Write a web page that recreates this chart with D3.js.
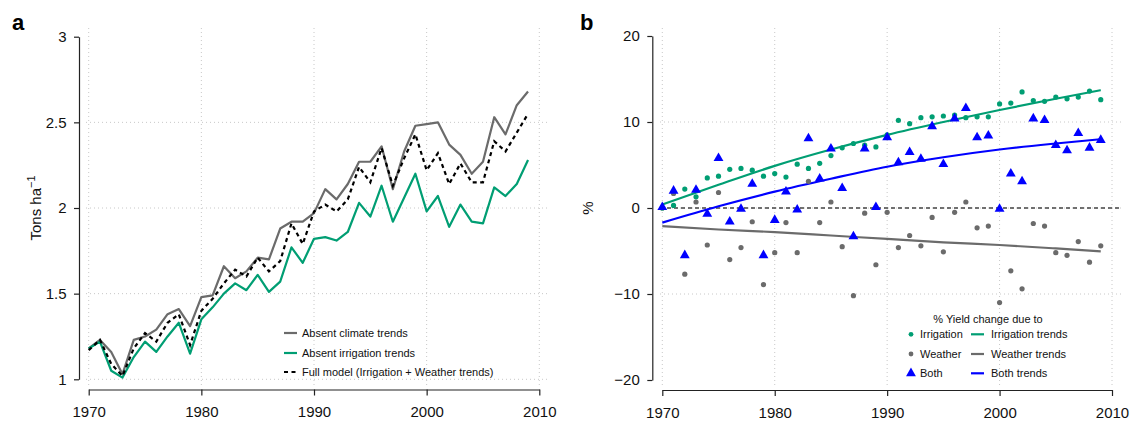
<!DOCTYPE html>
<html><head><meta charset="utf-8">
<script src="https://cdn.jsdelivr.net/npm/d3@7"></script>
<style>
body{margin:0;background:#fff;}
svg{display:block;font-family:"Liberation Sans",Arial,Helvetica,sans-serif;}
</style></head>
<body>
<svg id="chart" width="1130" height="421"></svg>
<script>
// ---------- DATA ----------
const years = d3.range(1970, 2010);
// Panel a (Tons ha^-1)
const absentClimate = [1.18,1.23,1.16,1.03,1.23,1.25,1.29,1.38,1.41,1.31,1.48,1.49,1.66,1.59,1.63,1.71,1.70,1.88,1.92,1.92,1.97,2.11,2.05,2.14,2.27,2.27,2.36,2.11,2.33,2.48,2.49,2.50,2.37,2.31,2.20,2.27,2.53,2.43,2.60,2.68];
const absentIrrigation = [1.18,1.22,1.05,1.01,1.13,1.22,1.16,1.25,1.33,1.15,1.35,1.42,1.50,1.56,1.52,1.61,1.51,1.57,1.77,1.68,1.82,1.83,1.81,1.86,2.03,1.95,2.13,1.92,2.06,2.20,1.98,2.07,1.89,2.02,1.92,1.91,2.12,2.07,2.14,2.28];
const fullModel = [1.17,1.23,1.09,1.02,1.18,1.27,1.22,1.33,1.38,1.20,1.40,1.47,1.56,1.64,1.60,1.71,1.63,1.69,1.91,1.79,1.98,2.02,1.98,2.05,2.24,2.15,2.35,2.13,2.29,2.43,2.22,2.32,2.14,2.26,2.15,2.15,2.39,2.33,2.44,2.55];
// Panel b (% yield change)
const irrigationPts = [0.0,0.3,2.2,1.3,3.5,3.7,4.5,4.6,4.4,3.7,4.0,3.6,5.1,4.6,5.2,6.1,7.0,7.5,7.3,7.1,8.5,10.2,9.8,10.5,10.6,10.7,10.8,10.5,10.6,10.6,12.1,12.2,13.5,12.5,12.4,12.9,12.7,12.9,13.6,12.6];
const weatherPts = [0.0,1.7,-7.7,0.7,-4.3,1.8,-6.0,-4.6,-1.6,-8.9,-5.2,-1.7,-5.2,3.1,-1.7,0.7,-4.5,-10.2,-0.6,-6.6,-0.5,-4.6,-3.2,-4.4,-1.1,-5.1,-0.5,0.7,-2.3,-2.1,-11.0,-7.3,-9.4,-1.8,-2.1,-5.2,-5.5,-3.9,-6.3,-4.4];
const bothPts = [0.1,2.0,-5.5,2.1,-0.7,5.8,-1.6,-0.1,2.8,-5.5,-1.4,1.9,-0.2,8.1,3.4,6.9,2.3,-3.3,6.9,0.1,8.2,5.3,6.5,5.7,9.5,5.1,10.4,11.6,8.2,8.4,-0.1,4.0,3.1,10.4,10.2,7.3,6.7,8.7,7.0,7.9];
const trendYears = [1970,1975,1980,1985,1990,1995,2000,2005,2009];
const irrigationTrend = [0.4,2.7,4.9,6.8,8.5,10.0,11.4,12.7,13.7];
const weatherTrend = [-2.1,-2.5,-2.8,-3.2,-3.6,-4.0,-4.3,-4.7,-5.05];
const bothTrend = [-1.7,0.2,1.9,3.4,4.8,5.9,6.8,7.5,8.0];
const xTicks = [1970,1980,1990,2000,2010];
const yTicksA = [1,1.5,2,2.5,3];
const yTicksB = [-20,-10,0,10,20];

const GREEN = "#009E73", GREY = "#6b6b6b", BLUE = "#0000FF";

const svg = d3.select("#chart");

function grid(g, x, y, xt, yt, x0, x1, y0, y1){
  xt.forEach(t => g.append("line").attr("x1", x(t)).attr("x2", x(t)).attr("y1", y0).attr("y2", y1)
     .attr("stroke", "#c8c8c8").attr("stroke-width", 1).attr("stroke-dasharray", "1,3"));
  yt.forEach(t => g.append("line").attr("x1", x0).attr("x2", x1).attr("y1", y(t)).attr("y2", y(t))
     .attr("stroke", "#c8c8c8").attr("stroke-width", 1).attr("stroke-dasharray", "1,3"));
}
function axes(x, y, xt, yt, xAxisY, yAxisX, fmt){
  const ax = svg.append("g").attr("transform", `translate(0,${xAxisY})`)
    .call(d3.axisBottom(x).tickValues(xt).tickSize(6).tickSizeOuter(0).tickFormat(d3.format("d")));
  const ay = svg.append("g").attr("transform", `translate(${yAxisX},0)`)
    .call(d3.axisLeft(y).tickValues(yt).tickSize(5).tickSizeOuter(0).tickFormat(fmt));
  [ax, ay].forEach(a => {
    a.selectAll("path,line").attr("stroke", "#222").attr("stroke-width", 1.2);
    a.selectAll("text").attr("font-size", 15).attr("fill", "#111").attr("font-family", "Liberation Sans, Arial, sans-serif");
  });
  ax.selectAll("text").attr("dy", "1.25em");
  ay.selectAll("text").attr("dx", "-0.3em");
}

// ---------- PANEL A ----------
const xa = d3.scaleLinear().domain([1970, 2010]).range([88.7, 539.3]);
const ya = d3.scaleLinear().domain([1, 3]).range([379.3, 36.7]);
grid(svg.append("g"), xa, ya, xTicks, [1,1.5,2,2.5], 86, 548, 28, 385);
axes(xa, ya, xTicks, yTicksA, 389.5, 79, d3.format("~g"));

const lineA = d3.line().x((d,i) => xa(years[i])).y(d => ya(d));
svg.append("path").datum(absentClimate).attr("d", lineA).attr("fill", "none").attr("stroke", GREY).attr("stroke-width", 2.2).attr("stroke-linejoin", "round");
svg.append("path").datum(absentIrrigation).attr("d", lineA).attr("fill", "none").attr("stroke", GREEN).attr("stroke-width", 2.2).attr("stroke-linejoin", "round");
svg.append("path").datum(fullModel).attr("d", lineA).attr("fill", "none").attr("stroke", "#000").attr("stroke-width", 2.2).attr("stroke-dasharray", "4,3.5");

svg.append("text").attr("transform", "translate(41,208) rotate(-90)").attr("text-anchor", "middle")
  .attr("font-size", 15).attr("fill", "#111")
  .html('Tons ha<tspan dy="-6" font-size="11">−1</tspan>');
svg.append("text").attr("x", 12).attr("y", 30).attr("font-size", 22).attr("font-weight", "bold").text("a");

const legA = [["Absent climate trends", GREY, null], ["Absent irrigation trends", GREEN, null], ["Full model (Irrigation + Weather trends)", "#000", "4,3.5"]];
legA.forEach((d, i) => {
  const yy = [333, 353, 372][i];
  svg.append("line").attr("x1", 284).attr("x2", 297).attr("y1", yy).attr("y2", yy)
    .attr("stroke", d[1]).attr("stroke-width", 2.2).attr("stroke-dasharray", d[2]);
  svg.append("text").attr("x", 302).attr("y", yy).attr("dy", "0.35em").attr("font-size", 11).attr("fill", "#111").text(d[0]);
});

// ---------- PANEL B ----------
const xb = d3.scaleLinear().domain([1970, 2010]).range([662.3, 1112]);
const yb = d3.scaleLinear().domain([-20, 20]).range([380, 36]);
grid(svg.append("g"), xb, yb, xTicks, [-10,0,10], 660, 1121, 28, 386);
axes(xb, yb, xTicks, yTicksB, 390, 652.3, d3.format("d"));

svg.append("line").attr("x1", 660).attr("x2", 1121).attr("y1", yb(0)).attr("y2", yb(0))
  .attr("stroke", "#444").attr("stroke-width", 1.4).attr("stroke-dasharray", "4,3");

const trendLine = d3.line().x((d,i) => xb(trendYears[i])).y(d => yb(d)).curve(d3.curveMonotoneX);
svg.append("path").datum(irrigationTrend).attr("d", trendLine).attr("fill", "none").attr("stroke", GREEN).attr("stroke-width", 2.2);
svg.append("path").datum(weatherTrend).attr("d", trendLine).attr("fill", "none").attr("stroke", GREY).attr("stroke-width", 2.2);
svg.append("path").datum(bothTrend).attr("d", trendLine).attr("fill", "none").attr("stroke", BLUE).attr("stroke-width", 2.2);

svg.append("g").selectAll("circle").data(weatherPts).join("circle")
  .attr("cx", (d,i) => xb(years[i])).attr("cy", d => yb(d)).attr("r", 2.6).attr("fill", GREY);
svg.append("g").selectAll("circle").data(irrigationPts).join("circle")
  .attr("cx", (d,i) => xb(years[i])).attr("cy", d => yb(d)).attr("r", 2.6).attr("fill", GREEN);
const tri = d3.symbol().type(d3.symbolTriangle).size(42);
svg.append("g").selectAll("path").data(bothPts).join("path")
  .attr("transform", (d,i) => `translate(${xb(years[i])},${yb(d)})`).attr("d", tri).attr("fill", BLUE);

svg.append("text").attr("transform", "translate(593,208) rotate(-90)").attr("text-anchor", "middle")
  .attr("font-size", 15).attr("fill", "#111").text("%");
svg.append("text").attr("x", 580).attr("y", 30).attr("font-size", 22).attr("font-weight", "bold").text("b");

svg.append("text").attr("x", 988).attr("y", 319).attr("dy", "0.35em").attr("text-anchor", "middle")
  .attr("font-size", 11).attr("fill", "#111").text("% Yield change due to");
const legB = [["Irrigation", GREEN, "circle", "Irrigation trends"], ["Weather", GREY, "circle", "Weather trends"], ["Both", BLUE, "tri", "Both trends"]];
legB.forEach((d, i) => {
  const yy = [334.3, 354, 373.3][i];
  if (d[2] === "circle") svg.append("circle").attr("cx", 911).attr("cy", yy).attr("r", 2.4).attr("fill", d[1]);
  else svg.append("path").attr("transform", `translate(911,${yy})`).attr("d", tri).attr("fill", d[1]);
  svg.append("text").attr("x", 920).attr("y", yy).attr("dy", "0.35em").attr("font-size", 11).attr("fill", "#111").text(d[0]);
  svg.append("line").attr("x1", 971).attr("x2", 984).attr("y1", yy).attr("y2", yy).attr("stroke", d[1]).attr("stroke-width", 2.2);
  svg.append("text").attr("x", 991).attr("y", yy).attr("dy", "0.35em").attr("font-size", 11).attr("fill", "#111").text(d[3]);
});
</script>
</body></html>
